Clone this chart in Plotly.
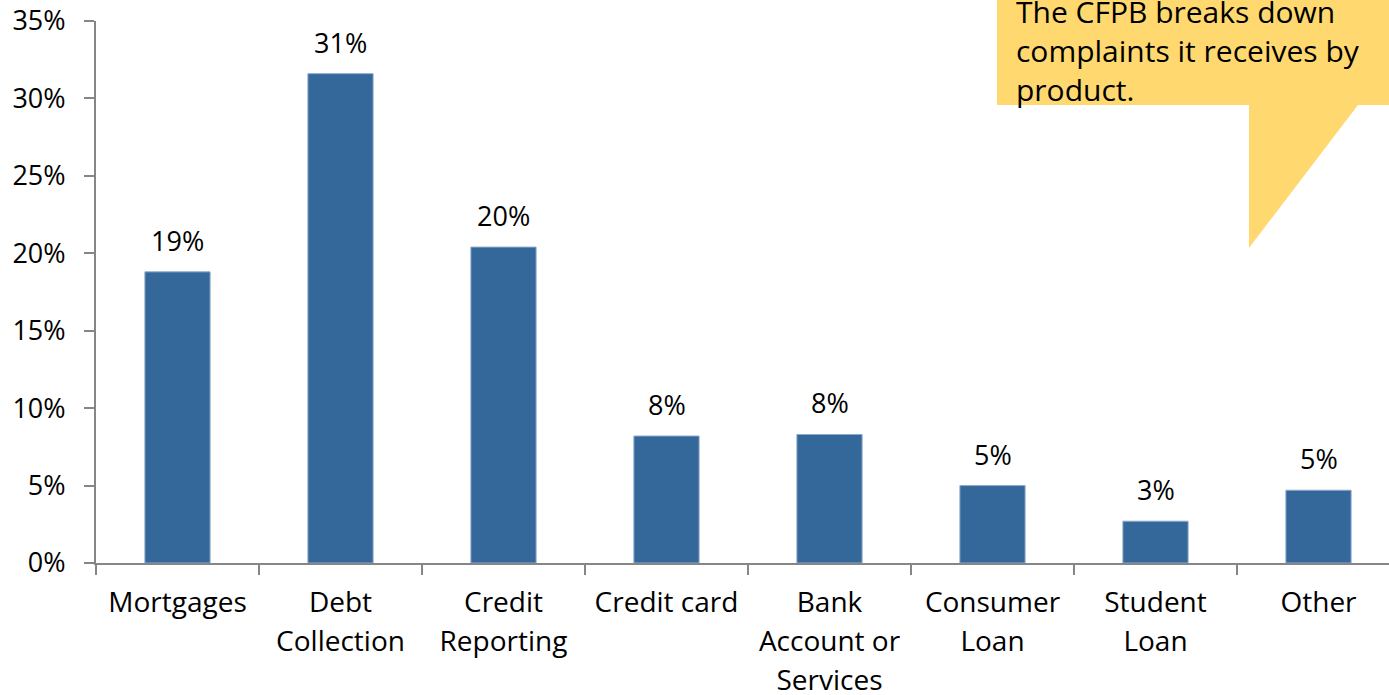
import plotly.graph_objects as go

# Share of complaints received by product
categories = ["Mortgages", "Debt<br>Collection", "Credit<br>Reporting", "Credit card",
              "Bank<br>Account or<br>Services", "Consumer<br>Loan", "Student<br>Loan", "Other"]
shares = [0.188, 0.316, 0.204, 0.082, 0.083, 0.050, 0.027, 0.047]
share_labels = ["19%", "31%", "20%", "8%", "8%", "5%", "3%", "5%"]
y_ticks = [0, 0.05, 0.10, 0.15, 0.20, 0.25, 0.30, 0.35]
callout_text = "The CFPB breaks down<br>complaints it receives by<br>product."

W, H = 1389, 695
ML, MR, MT, MB = 96, 0, 21, 132
FONT = "Open Sans"
AXIS = "#868686"
BAR = "#34679a"

def px_x(px):
    return (px - ML) / (W - ML - MR)

def px_y(py):
    return (H - MB - py) / (H - MT - MB)

cat_w = 163.0
x_right = -0.5 + (W - ML - MR) / cat_w

# category labels: glyphs at 28px on a 30px line pitch
def spaced(label, size=28):
    return "<br>".join(f"<span style='font-size:{size}px'>{ln}</span>"
                       for ln in label.split("<br>"))

fig = go.Figure()
fig.add_trace(go.Bar(
    x=categories, y=shares, width=0.4,
    marker=dict(color=BAR, line=dict(color="#8eaacb", width=1)),
    hoverinfo="skip",
))

# value labels above each bar
for c, v, t in zip(categories, shares, share_labels):
    fig.add_annotation(x=c, y=v, xref="x", yref="y", text=t, showarrow=False,
                       yanchor="bottom", yshift=11,
                       font=dict(family=FONT, size=27, color="black"))

# speech-bubble callout
bx0, bx1, by0, by1 = 997, 1420, -60, 105
tail = [(1358, 105), (1249, 248), (1249, 105)]
pts = [(bx0, by0), (bx1, by0), (bx1, by1)] + tail + [(bx0, by1)]
path = "M " + " L ".join(f"{px_x(a):.5f},{px_y(b):.5f}" for a, b in pts) + " Z"
fig.add_shape(type="path", path=path, xref="paper", yref="paper",
              fillcolor="#ffd96f", line=dict(width=0), layer="above")
fig.add_annotation(x=px_x(1014), y=px_y(112), xref="paper", yref="paper",
                   text=callout_text, showarrow=False, align="left",
                   xanchor="left", yanchor="bottom",
                   font=dict(family=FONT, size=30, color="black"))

fig.update_layout(
    width=W, height=H,
    margin=dict(l=ML, r=MR, t=MT, b=MB, pad=0, autoexpand=False),
    plot_bgcolor="white", paper_bgcolor="white",
    showlegend=False,
    font=dict(family=FONT, size=27, color="black"),
)
fig.update_xaxes(
    type="category", range=[-0.5, x_right], automargin=False,
    tickvals=categories, ticktext=[spaced(c) for c in categories],
    showline=True, linecolor=AXIS, linewidth=2,
    ticks="outside", tickson="boundaries", ticklen=10, tickcolor=AXIS, tickwidth=2,
    showgrid=False, tickfont=dict(family=FONT, size=30, color="black"),
    ticklabelstandoff=11,
)
fig.update_yaxes(
    range=[0, 0.35], tickvals=y_ticks, tickformat=".0%", automargin=False,
    showline=True, linecolor=AXIS, linewidth=2,
    ticks="outside", ticklen=10, tickcolor=AXIS, tickwidth=2,
    showgrid=False, zeroline=False,
    tickfont=dict(family=FONT, size=27, color="black"),
    ticklabelstandoff=13,
)

fig.write_html("out.html")
